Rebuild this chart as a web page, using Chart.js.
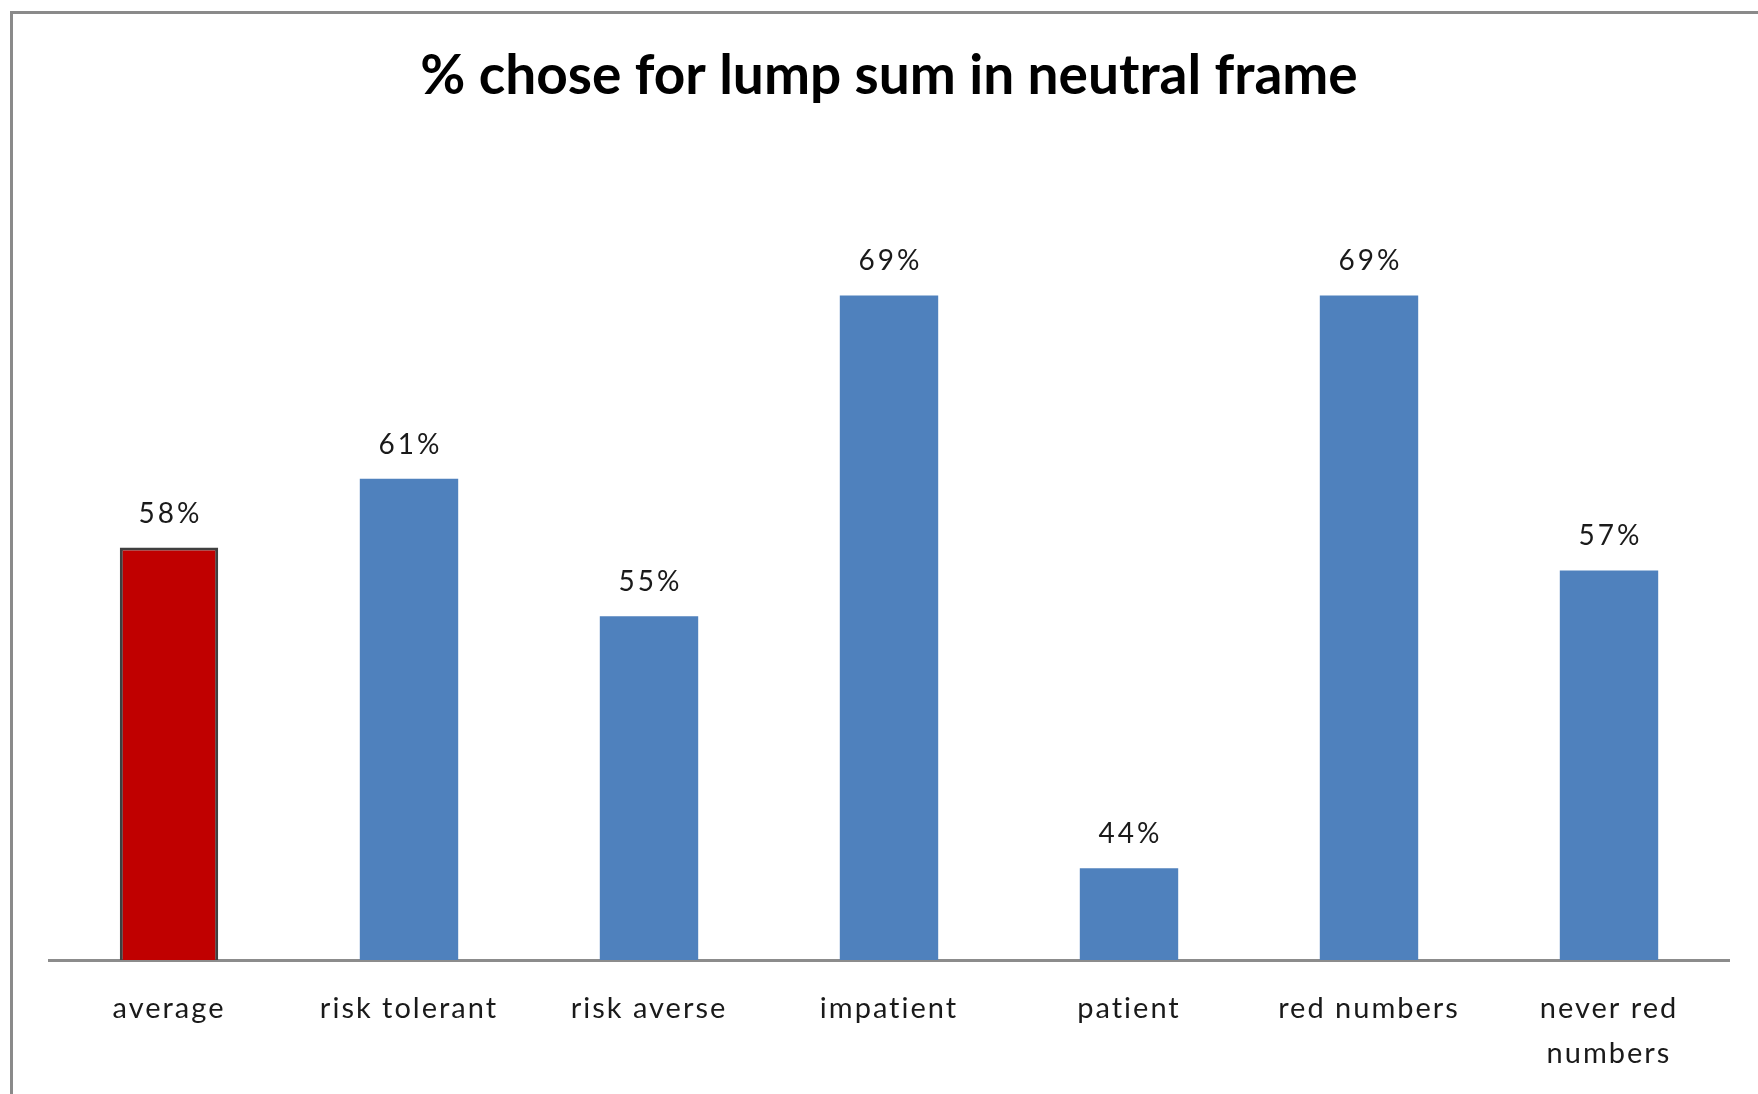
<!DOCTYPE html>
<html lang="en">
<head>
    <meta charset="UTF-8">
    <title>% chose for lump sum in neutral frame</title>
    <script src="https://cdn.jsdelivr.net/npm/chart.js"></script>
    <style>
        html, body { margin: 0; padding: 0; background: #fff; }
        #wrap { width: 1758px; height: 1094px; }
    </style>
</head>
<body>
    <div id="wrap"><canvas id="chart"></canvas></div>

    <script>
        // Data
        const categories = ['average', 'risk tolerant', 'risk averse', 'impatient', 'patient', 'red numbers', ['never red', 'numbers']];
        const shares = [58, 61, 55, 69, 44, 69, 57];
        const barColors = ['#C00000', '#4F81BD', '#4F81BD', '#4F81BD', '#4F81BD', '#4F81BD', '#4F81BD'];

        // grey frame on the top and left edge, like the pasted Excel chart
        const framePlugin = {
            id: 'frame',
            beforeDraw(chart) {
                const ctx = chart.ctx;
                ctx.save();
                ctx.strokeStyle = '#8a8a8a';
                ctx.lineWidth = 3;
                ctx.beginPath();
                ctx.moveTo(11.5, chart.height);
                ctx.lineTo(11.5, 12.5);
                ctx.lineTo(chart.width, 12.5);
                ctx.stroke();
                ctx.restore();
                ctx.letterSpacing = '0px';
            },
            beforeDatasetsDraw(chart) {
                // tick labels are drawn after the bars (ticks.z = 1); Excel spaces them loosely
                chart.ctx.letterSpacing = '2px';
            }
        };

        // value labels above each bar
        const valueLabels = {
            id: 'valueLabels',
            afterDatasetsDraw(chart) {
                const ctx = chart.ctx;
                const meta = chart.getDatasetMeta(0);
                ctx.save();
                ctx.font = '28px Lato';
                ctx.letterSpacing = '3px';
                ctx.fillStyle = '#1a1a1a';
                ctx.textAlign = 'center';
                ctx.textBaseline = 'alphabetic';
                meta.data.forEach((bar, i) => {
                    ctx.fillText(shares[i] + '%', bar.x + 1.5, bar.y - 25);
                });
                ctx.restore();
            }
        };

        const ctx = document.getElementById('chart').getContext('2d');
        new Chart(ctx, {
            type: 'bar',
            data: {
                labels: categories,
                datasets: [{
                    data: shares,
                    backgroundColor: barColors,
                    borderColor: shares.map((_, i) => i === 0 ? '#404040' : 'rgba(0,0,0,0)'),
                    borderWidth: shares.map((_, i) => i === 0 ? 3 : 0),
                    borderSkipped: false,
                    categoryPercentage: 1,
                    barPercentage: 0.41
                }]
            },
            options: {
                responsive: true,
                maintainAspectRatio: false,
                animation: false,
                layout: { padding: { left: 49, right: 29, bottom: 0 } },
                plugins: {
                    legend: { display: false },
                    tooltip: { enabled: false },
                    title: {
                        display: true,
                        text: '% chose for lump sum in neutral frame',
                        color: '#000',
                        font: { family: 'Lato', size: 55, weight: 'bold' },
                        padding: { top: 43, bottom: 49 }
                    }
                },
                scales: {
                    x: {
                        grid: { display: false },
                        border: { display: true, color: '#8c8c8c', width: 3 },
                        ticks: {
                            z: 1,
                            color: '#1a1a1a',
                            padding: 18,
                            font: { family: 'Lato', size: 29, lineHeight: 1.55 }
                        },
                        afterFit(scale) { scale.height = 134; }
                    },
                    y: {
                        display: false,
                        min: 40,
                        max: 75
                    }
                }
            },
            plugins: [framePlugin, valueLabels]
        });
    </script>
</body>
</html>
